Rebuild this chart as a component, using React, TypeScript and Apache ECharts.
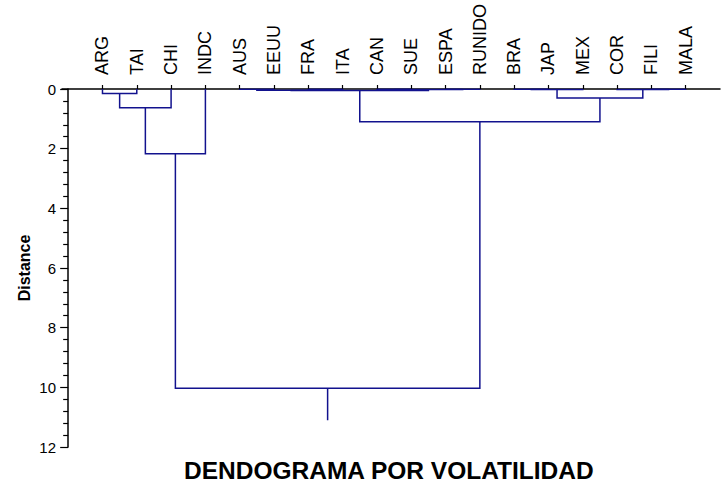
import React, { useEffect, useRef } from "react";
import * as echarts from "echarts";

const leaves = ["ARG", "TAI", "CHI", "INDC", "AUS", "EEUU", "FRA", "ITA", "CAN", "SUE", "ESPA", "RUNIDO", "BRA", "JAP", "MEX", "COR", "FILI", "MALA"];
// merge k creates node leaves.length + k
const mergeA = [0, 18, 19, 4, 6, 21, 8, 10, 24, 23, 12, 28, 16, 15, 29, 27, 20];
const mergeB = [1, 2, 3, 5, 7, 22, 9, 11, 25, 26, 13, 14, 17, 30, 31, 32, 33];
const mergeH = [0.15, 0.63, 2.17, 0.01, 0.01, 0.04, 0.01, 0.01, 0.02, 0.05, 0.01, 0.02, 0.01, 0.02, 0.3, 1.1, 10.03];
const rootStemEnd = 11.1;
const yTicks = [0, 2, 4, 6, 8, 10, 12];

const FONT = "'Liberation Sans', Arial, Helvetica, sans-serif";
const NAVY = "#12128e";

function buildSegments() {
  const pos: number[] = leaves.map((_, i) => i + 1);
  const h: number[] = leaves.map(() => 0);
  const segs: { coords: number[][] }[] = [];
  mergeA.forEach((a, k) => {
    const b = mergeB[k];
    const H = mergeH[k];
    segs.push({ coords: [[pos[a], h[a]], [pos[a], H], [pos[b], H], [pos[b], h[b]]] });
    pos.push((pos[a] + pos[b]) / 2);
    h.push(H);
  });
  const root = pos.length - 1;
  segs.push({ coords: [[pos[root], h[root]], [pos[root], rootStemEnd]] });
  return segs;
}

export default function App() {
  const ref = useRef<HTMLDivElement>(null);
  useEffect(() => {
    if (!ref.current) return;
    const chart = echarts.init(ref.current, null, { renderer: "svg" });
    const leafVals = leaves.map((_, i) => i + 1);
    chart.setOption({
      animation: false,
      backgroundColor: "#ffffff",
      title: {
        text: "DENDOGRAMA POR VOLATILIDAD",
        left: 179,
        top: 453,
        textStyle: { fontFamily: FONT, fontSize: 24.5, fontWeight: "bold", color: "#000" },
      },
      grid: { left: 62, right: 1, top: 89, bottom: 40, containLabel: false, outerBoundsMode: "none" },
      xAxis: {
        type: "value",
        position: "top",
        min: -0.18,
        max: 19,
        splitLine: { show: false },
        axisLine: { show: true, lineStyle: { color: "#000", width: 1.5 } },
        axisTick: { show: true, customValues: leafVals, length: 4, lineStyle: { color: "#000", width: 1.2 } },
        axisLabel: {
          show: true,
          customValues: leafVals,
          rotate: 90,
          margin: 14,
          fontFamily: FONT,
          fontSize: 18,
          color: "#000",
          formatter: (v: number) => leaves[Math.round(v) - 1] ?? "",
        },
      },
      yAxis: {
        type: "value",
        inverse: true,
        min: 0,
        max: 12,
        interval: 2,
        name: "Distance",
        nameLocation: "middle",
        nameGap: 30,
        nameMoveOverlap: false,
        nameTextStyle: { fontFamily: FONT, fontSize: 16, fontWeight: "bold", color: "#000" },
        splitLine: { show: false },
        axisLine: { show: true, onZero: true, lineStyle: { color: "#000", width: 1.5 } },
        axisTick: { show: true, length: 8, lineStyle: { color: "#000", width: 1.2 } },
        minorTick: { show: true, splitNumber: 5, length: 5, lineStyle: { color: "#000", width: 1.2 } },
        axisLabel: {
          fontFamily: FONT,
          fontSize: 15,
          color: "#000",
          margin: 6,
          formatter: (v: number) => (yTicks.includes(v) ? String(v) : ""),
        },
      },
      series: [
        {
          type: "lines",
          coordinateSystem: "cartesian2d",
          polyline: true,
          silent: true,
          z: 5,
          lineStyle: { color: NAVY, width: 1.5, opacity: 1 },
          data: buildSegments(),
        },
      ],
    });
    return () => chart.dispose();
  }, []);
  return <div ref={ref} style={{ position: "fixed", left: 0, top: 0, width: 721, height: 487 }} />;
}
